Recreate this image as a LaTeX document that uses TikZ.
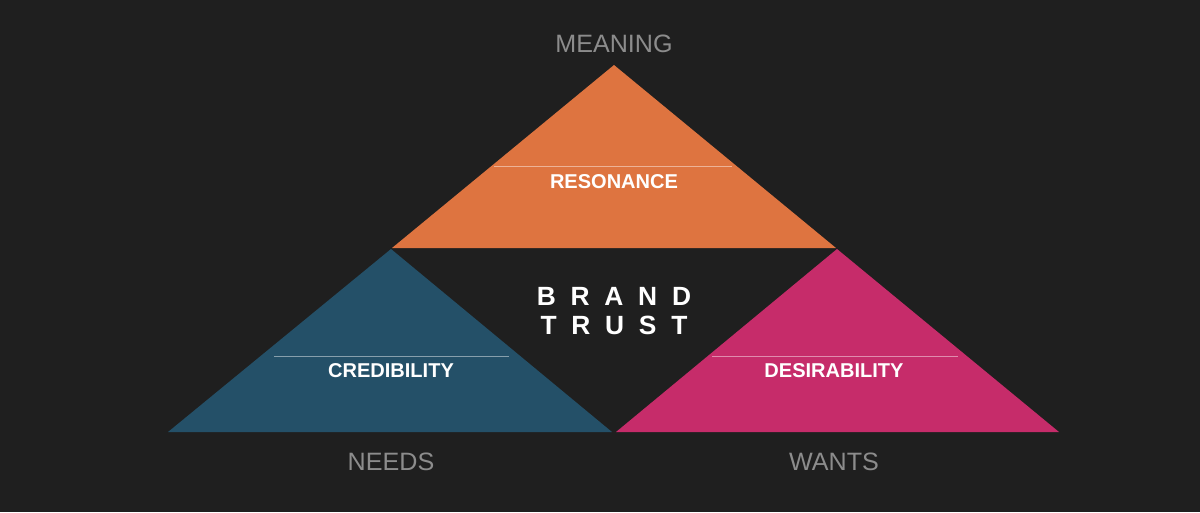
\documentclass[tikz,border=0pt]{standalone}
\usepackage{fontspec}
\setmainfont{Liberation Sans}
\usetikzlibrary{positioning}
\definecolor{bgcolor}{RGB}{31,31,31}
\definecolor{meancolor}{RGB}{222,116,64}
\definecolor{needcolor}{RGB}{36,80,104}
\definecolor{wantcolor}{RGB}{198,44,106}
\definecolor{labelgray}{RGB}{140,140,140}
\newcommand{\trk}{\kern8.4pt}

\begin{document}
\begin{tikzpicture}[x=0.02cm, y=-0.02cm,
    corner/.style={font=\fontsize{14.3}{16}\selectfont, text=labelgray, inner sep=0pt},
    facet/.style={font=\fontsize{11.4}{13}\selectfont\bfseries, text=white, inner sep=0pt},
    core/.style={font=\fontsize{15}{17}\selectfont\bfseries, text=white, inner sep=0pt}]
    \fill[bgcolor] (0,0) rectangle (1200,512);
    \useasboundingbox (0,0) rectangle (1200,512);
    % three triangles
    \coordinate (mtop) at (614,65);
    \coordinate (ntop) at (391,249);
    \coordinate (wtop) at (837,249);
    \fill[meancolor] (mtop) -- (836,248) -- (392,248) -- cycle;
    \fill[needcolor] (ntop) -- (612,432) -- (168,432) -- cycle;
    \fill[wantcolor] (wtop) -- (1059,432) -- (616,432) -- cycle;
    \draw[meancolor!55!white, line width=0.5pt] (494,166) -- (732,166);
    \draw[needcolor!55!white, line width=0.5pt] (274,356) -- (509,356);
    \draw[wantcolor!55!white, line width=0.5pt] (712,356) -- (958,356);
    % labels
    \node[facet] (res) at (614,182) {RESONANCE};
    \node[facet] (cred) at (391,370.5) {CREDIBILITY};
    \node[facet] (des) at (834,370.5) {DESIRABILITY};
    \node[core] (brand) at (614,296.5) {B\trk R\trk A\trk N\trk D};
    \node[core] (trust) at (614,325.5) {T\trk R\trk U\trk S\trk T};
    \node[corner] (meaning) at (614,44) {MEANING};
    \node[corner] (needs) at (391,462) {NEEDS};
    \node[corner] (wants) at (834,462) {WANTS};
\end{tikzpicture}
\end{document}
